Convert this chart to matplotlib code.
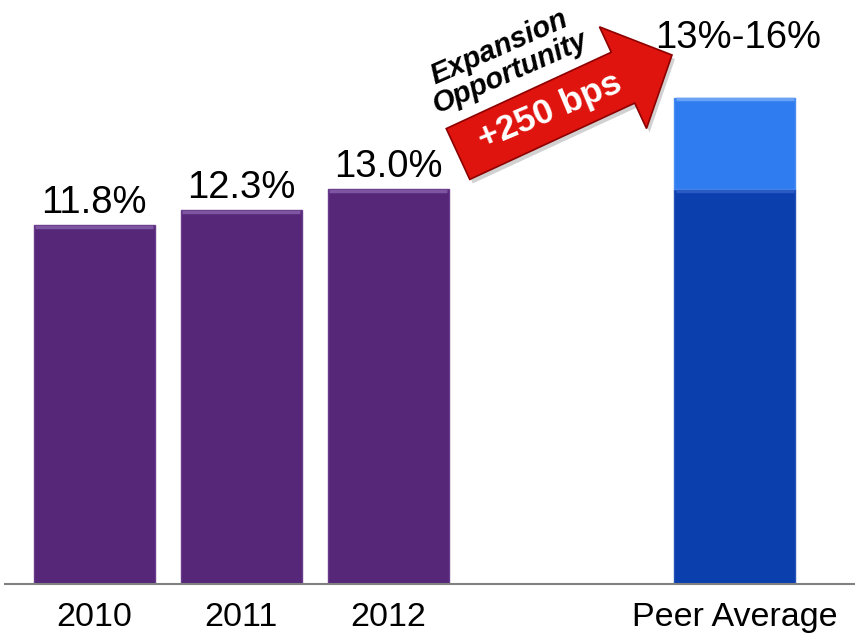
import numpy as np
import matplotlib
matplotlib.use("Agg")
import matplotlib.pyplot as plt
from matplotlib.patches import Polygon

plt.rcParams["font.family"] = ["Liberation Sans", "DejaVu Sans"]

# Operating margin by year, plus the peer range (low / high)
years = ["2010", "2011", "2012"]
margins = [11.8, 12.3, 13.0]
margin_labels = ["11.8%", "12.3%", "13.0%"]
peer_name = "Peer Average"
peer_low = 13.0
peer_high = 16.0
peer_label = "13%-16%"
arrow_title = "Expansion\nOpportunity"
arrow_text = "+250 bps"

PURPLE = "#562679"
DARK_BLUE = "#0b3fae"
LIGHT_BLUE = "#2f7cf0"
ARROW_RED = "#e0140e"

W, H = 855, 637
fig = plt.figure(figsize=(W / 100, H / 100), dpi=100)

# main axes: baseline at y=584 px, left edge at x=5 px
base_px = 584
ax = fig.add_axes([5 / W, (H - base_px) / H, 850 / W, base_px / H])
px_per_pct = (base_px - 189) / 13.0
ax.set_ylim(0, base_px / px_per_pct)
unit = 147.0
ax.set_xlim((5 - 94) / unit, (855 - 94) / unit)

xs = np.arange(len(years), dtype=float)
peer_x = len(years) + 1.36
bw = 121 / unit


def bevel(x, top, color):
    # light strip along the top edge of a bar
    ax.hlines(top - 0.05, x - bw / 2 + 0.01, x + bw / 2 - 0.01, color=color,
              linewidth=2.5, zorder=3)


ax.bar(xs, margins, width=bw, color=PURPLE, edgecolor="#6a3a8c", linewidth=1.0, zorder=2)
ax.bar([peer_x], [peer_low], width=bw, color=DARK_BLUE, edgecolor="#2452b8", linewidth=1.0, zorder=2)
ax.bar([peer_x], [peer_high - peer_low], bottom=[peer_low], width=bw, color=LIGHT_BLUE,
       edgecolor="#4a8cf2", linewidth=1.0, zorder=2)
for x, v in zip(xs, margins):
    bevel(x, v, "#7d55a0")
bevel(peer_x, peer_low, "#2a5ac4")
bevel(peer_x, peer_high, "#6aa3f6")

for x, v, lab in zip(xs, margins, margin_labels):
    ax.annotate(lab, (x, v), xytext=(0, 3), textcoords="offset points",
                ha="center", va="bottom", fontsize=27.5)
# peer label sits up by the arrow head, clear of the callout
ax.annotate(peer_label, (peer_x, peer_high), xytext=(2, 30), textcoords="offset points",
            ha="center", va="bottom", fontsize=27.5)

ax.set_xticks(list(xs) + [peer_x])
ax.set_xticklabels(years + [peer_name], fontsize=24.5)
ax.tick_params(axis="x", length=0, pad=13)
ax.set_yticks([])
for side in ("top", "right", "left"):
    ax.spines[side].set_visible(False)
ax.spines["bottom"].set_color("#808080")
ax.spines["bottom"].set_linewidth(1.5)

# overlay in pixel coordinates for the red arrow callout
ov = fig.add_axes([0, 0, 1, 1])
ov.set_xlim(0, W)
ov.set_ylim(H, 0)
ov.axis("off")
ov.patch.set_alpha(0)

tail = np.array([458.0, 154.0])
tip = np.array([672.0, 55.0])
d = tip - tail
length = np.hypot(*d)
u = d / length
n = np.array([u[1], -u[0]])  # points "up" on screen
shaft_w, head_w, head_len = 56.0, 112.0, 54.0
base = tip - u * head_len
pts = [
    tail + n * shaft_w / 2,
    base + n * shaft_w / 2,
    base + n * head_w / 2,
    tip,
    base - n * head_w / 2,
    base - n * shaft_w / 2,
    tail - n * shaft_w / 2,
]
shadow = Polygon([p + np.array([3, 4]) for p in pts], closed=True,
                 facecolor="#000000", alpha=0.18, edgecolor="none")
ov.add_patch(shadow)
ov.add_patch(Polygon(pts, closed=True, facecolor=ARROW_RED, edgecolor="#8c0000", linewidth=1.2))

angle = np.degrees(np.arctan2(-d[1], d[0]))
mid = tail + d * 0.43
ov.text(mid[0], mid[1], arrow_text, color="white", fontsize=25.5, fontweight="bold",
        rotation=angle - 2, rotation_mode="anchor", ha="center", va="center")
ov.text(505, 60, arrow_title, color="black", fontsize=21, fontweight="bold", style="italic",
        rotation=angle - 1, rotation_mode="anchor", ha="center", va="center",
        multialignment="center", linespacing=0.95)

fig.savefig("out.png", dpi=100)
